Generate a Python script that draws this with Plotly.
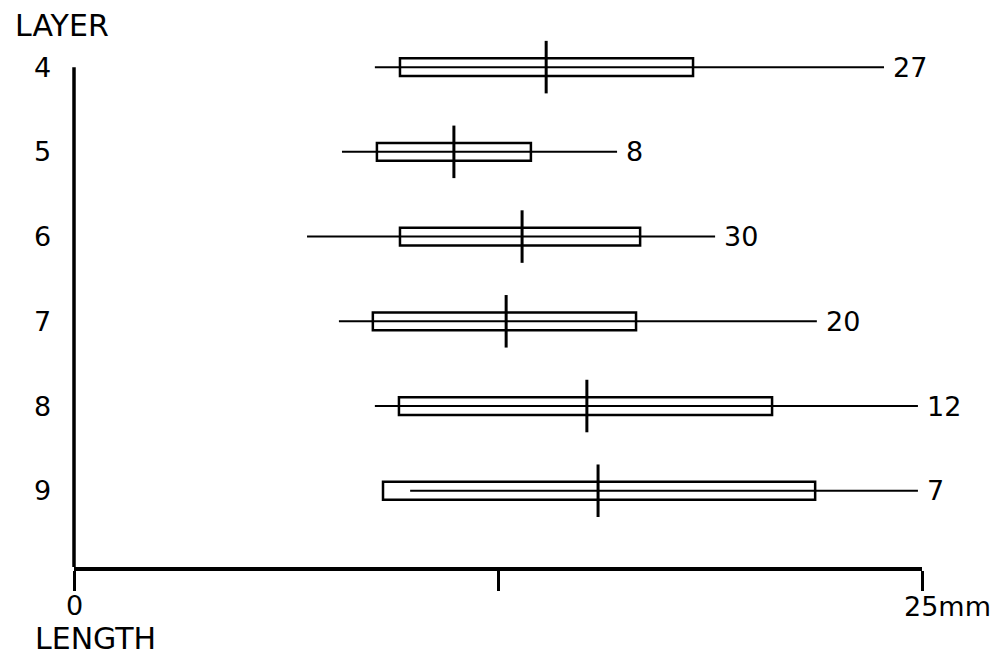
import plotly.graph_objects as go

layers = [4, 5, 6, 7, 8, 9]
counts = [27, 8, 30, 20, 12, 7]
mins = [8.87, 7.90, 6.87, 7.81, 8.87, 9.91]
box_lo = [9.61, 8.93, 9.61, 8.81, 9.58, 9.11]
medians = [13.92, 11.20, 13.21, 12.74, 15.12, 15.45]
box_hi = [18.25, 13.47, 16.69, 16.57, 20.58, 21.85]
maxs = [23.88, 16.01, 18.90, 21.90, 24.88, 24.88]

FONT = "DejaVu Sans"
BOX_H = 0.105
MED_H = 0.31

# range lines
rx, ry = [], []
for lay, lo, hi in zip(layers, mins, maxs):
    rx += [lo, hi, None]
    ry += [lay, lay, None]

mx, my = [], []
for lay, m in zip(layers, medians):
    mx += [m, m, None]
    my += [lay - MED_H, lay + MED_H, None]

traces = [
    go.Scatter(x=rx, y=ry, mode="lines", line=dict(color="black", width=2),
               hoverinfo="skip", showlegend=False),
    go.Scatter(x=mx, y=my, mode="lines", line=dict(color="black", width=3),
               hoverinfo="skip", showlegend=False),
]

shapes = []
for lay, lo, hi in zip(layers, box_lo, box_hi):
    shapes.append(dict(type="rect", xref="x", yref="y", x0=lo, x1=hi,
                       y0=lay - BOX_H, y1=lay + BOX_H,
                       line=dict(color="black", width=2.5)))
# vertical axis (paper x so the stroke isn't clipped at the plot edge)
shapes.append(dict(type="line", xref="paper", yref="y", x0=0, x1=0,
                   y0=layers[0], y1=9.9, line=dict(color="black", width=3.5)))

txt = dict(size=27, color="black", family=FONT)
annotations = []
for lay, c, hi in zip(layers, counts, maxs):
    annotations.append(dict(x=hi, y=lay, xref="x", yref="y", text=str(c),
                            showarrow=False, xanchor="left", xshift=7, font=txt))
for lay in layers:
    annotations.append(dict(x=-0.037, y=lay, xref="paper", yref="y", text=str(lay),
                            showarrow=False, xanchor="center", font=txt))
annotations += [
    dict(x=0, y=-0.071, xref="x", yref="paper", text="0", showarrow=False,
         xanchor="center", yanchor="middle", font=txt),
    dict(x=25, y=-0.074, xref="x", yref="paper", text="25mm", showarrow=False,
         xanchor="left", xshift=-20, yanchor="middle", font=txt),
    dict(x=0.025, y=-0.132, xref="paper", yref="paper", text="LENGTH", showarrow=False,
         xanchor="center", yanchor="middle", font=dict(txt, size=30)),
    dict(x=-0.014, y=1.006, xref="paper", yref="paper", text="LAYER", showarrow=False,
         xanchor="center", yanchor="middle", font=dict(txt, size=30)),
]

fig = go.Figure(data=traces)
fig.update_layout(
    width=999, height=655,
    margin=dict(l=66, r=85, t=21, b=96),
    paper_bgcolor="white", plot_bgcolor="white",
    shapes=shapes, annotations=annotations,
    xaxis=dict(range=[0, 25], showgrid=False, zeroline=False,
               showline=True, linecolor="black", linewidth=3.5,
               ticks="outside", ticklen=20, tickwidth=3, tickcolor="black",
               tickvals=[0, 12.5, 25], showticklabels=False),
    yaxis=dict(range=[9.9, 3.55], showgrid=False, zeroline=False,
               showticklabels=False, showline=False),
)
fig.write_html("out.html")
